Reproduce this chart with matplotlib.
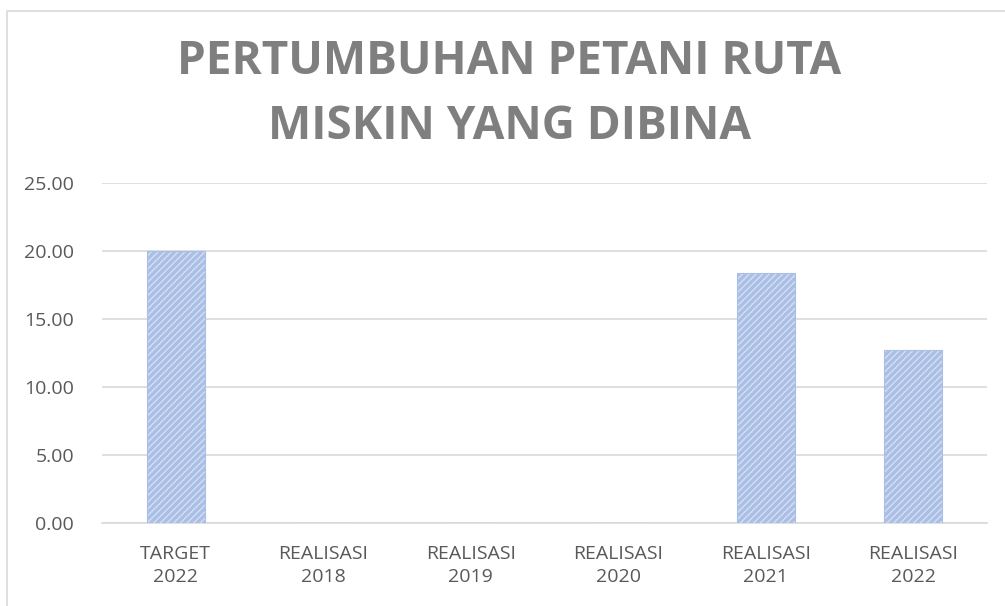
import matplotlib
matplotlib.use('Agg')
import matplotlib.pyplot as plt
from matplotlib.lines import Line2D

# data
categories = ['TARGET\n2022', 'REALISASI\n2018', 'REALISASI\n2019',
              'REALISASI\n2020', 'REALISASI\n2021', 'REALISASI\n2022']
values = [20.00, 0, 0, 0, 18.35, 12.70]
yticks = [0, 5, 10, 15, 20, 25]

plt.rcParams['font.family'] = ['Open Sans', 'DejaVu Sans']
plt.rcParams['hatch.color'] = '#3d6cc2'
plt.rcParams['hatch.linewidth'] = 2.4

fig = plt.figure(figsize=(10.05, 6.06), dpi=100)
ax = fig.add_axes([102 / 1005, 1 - 523 / 606, 885 / 1005, 340 / 606])

x = list(range(len(categories)))
ax.bar(x, values, width=0.39, color='#d6e0f3', edgecolor='#a9bfe6',
       linewidth=0.8, hatch='/////', zorder=3)

ax.set_xlim(-0.5, len(categories) - 0.5)
ax.set_ylim(0, 25)
ax.set_yticks(yticks)
ax.set_yticklabels(['%.2f' % v for v in yticks], fontsize=14, color='#595959')
ax.set_xticks(x)
ax.set_xticklabels(categories, fontsize=14, color='#595959', linespacing=1.35)
ax.tick_params(axis='both', length=0)
ax.tick_params(axis='x', pad=16)
ax.tick_params(axis='y', pad=20)
ax.grid(axis='y', color='#d9d9d9', linewidth=1.2, zorder=0)
for s in ['top', 'right', 'left']:
    ax.spines[s].set_visible(False)
ax.spines['bottom'].set_color('#d9d9d9')
ax.spines['bottom'].set_linewidth(1.2)

fig.text(0.507, 1 - 94 / 606, 'PERTUMBUHAN PETANI RUTA\nMISKIN YANG DIBINA',
         ha='center', va='center', fontsize=33, fontweight='bold',
         color='#7f7f7f', linespacing=1.5)

# chart border (only left and top show in the picture)
fig.add_artist(Line2D([7 / 1005, 7 / 1005, 1.0], [0, 1 - 11 / 606, 1 - 11 / 606],
                      transform=fig.transFigure, color='#d9d9d9', linewidth=1.2))

fig.savefig('out.png', dpi=100)
